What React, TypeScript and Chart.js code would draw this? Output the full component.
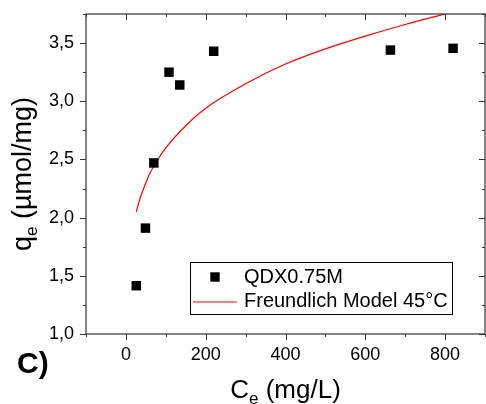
import React, { useEffect, useRef } from "react";
import { Chart, registerables } from "chart.js";

Chart.register(...registerables);

// Experimental points (Ce in mg/L, qe in µmol/mg)
const ceValues = [26, 49, 70, 108, 135, 220, 663, 820];
const qeValues = [1.415, 1.91, 2.47, 3.25, 3.14, 3.43, 3.44, 3.455];

// Freundlich model curve
const fitCe = [26, 35, 40, 50, 60, 80, 100, 150, 200, 300, 400, 500, 600, 700, 800];
const fitQe = [2.05, 2.16, 2.21, 2.3, 2.38, 2.5, 2.6, 2.79, 2.94, 3.15, 3.32, 3.45, 3.56, 3.66, 3.75];

// Axis ticks
const xMajorTicks = [0, 200, 400, 600, 800];
const xMinorTicks = [-100, 100, 300, 500, 700, 900];
const yMajorTicks = [1.0, 1.5, 2.0, 2.5, 3.0, 3.5];
const yMinorTicks = [1.25, 1.75, 2.25, 2.75, 3.25, 3.75];

const seriesLabel = "QDX0.75M";
const modelLabel = "Freundlich Model 45°C";
const panelLabel = "C)";

const FONT = "'Liberation Sans', Arial, Helvetica, sans-serif";

const decorPlugin = {
  id: "decor",
  afterDraw(chart: any) {
    const ctx = chart.ctx as CanvasRenderingContext2D;
    const { left, right, top, bottom } = chart.chartArea;
    const xs = chart.scales.x;
    const ys = chart.scales.y;
    ctx.save();
    // frame
    ctx.strokeStyle = "#333";
    ctx.lineWidth = 1.2;
    ctx.strokeRect(left, top, right - left, bottom - top);
    ctx.lineWidth = 1;
    ctx.beginPath();
    const major = 6;
    const minor = 3;
    xMajorTicks.forEach((v) => {
      const px = Math.round(xs.getPixelForValue(v)) + 0.5;
      ctx.moveTo(px, bottom); ctx.lineTo(px, bottom + major);
      ctx.moveTo(px, top); ctx.lineTo(px, top + major);
    });
    xMinorTicks.forEach((v) => {
      const px = Math.round(xs.getPixelForValue(v)) + 0.5;
      ctx.moveTo(px, bottom); ctx.lineTo(px, bottom + minor);
      ctx.moveTo(px, top); ctx.lineTo(px, top + minor);
    });
    yMajorTicks.forEach((v) => {
      const py = Math.round(ys.getPixelForValue(v)) + 0.5;
      ctx.moveTo(left, py); ctx.lineTo(left - major, py);
      ctx.moveTo(right, py); ctx.lineTo(right - major, py);
    });
    yMinorTicks.forEach((v) => {
      const py = Math.round(ys.getPixelForValue(v)) + 0.5;
      ctx.moveTo(left, py); ctx.lineTo(left - minor, py);
      ctx.moveTo(right, py); ctx.lineTo(right - minor, py);
    });
    ctx.stroke();

    // legend
    ctx.fillStyle = "#fff";
    ctx.fillRect(190, 262, 262, 52);
    ctx.strokeStyle = "#000";
    ctx.lineWidth = 1;
    ctx.strokeRect(190.5, 262.5, 262, 52);
    ctx.fillStyle = "#000";
    ctx.fillRect(215 - 4.7, 277 - 4.7, 9.4, 9.4);
    ctx.strokeStyle = "#ff0000";
    ctx.lineWidth = 1.2;
    ctx.beginPath();
    ctx.moveTo(193, 302);
    ctx.lineTo(237, 302);
    ctx.stroke();
    ctx.fillStyle = "#000";
    ctx.font = `20px ${FONT}`;
    ctx.textAlign = "left";
    ctx.textBaseline = "alphabetic";
    ctx.fillText(seriesLabel, 244, 283);
    ctx.fillText(modelLabel, 244, 307);

    // x title with subscript
    const big = `26px ${FONT}`;
    const small = `17px ${FONT}`;
    ctx.font = big;
    const wC = ctx.measureText("C").width;
    const wRest = ctx.measureText(" (mg/L)").width;
    ctx.font = small;
    const wE = ctx.measureText("e").width;
    const totalX = wC + wE + wRest;
    const x0 = (left + right) / 2 - totalX / 2;
    const xb = 398;
    ctx.font = big;
    ctx.fillText("C", x0, xb);
    ctx.font = small;
    ctx.fillText("e", x0 + wC, xb + 6);
    ctx.font = big;
    ctx.fillText(" (mg/L)", x0 + wC + wE, xb);

    // y title with subscript (rotated)
    ctx.save();
    const yb = 31;
    ctx.translate(yb, (top + bottom) / 2);
    ctx.rotate(-Math.PI / 2);
    const bigY = `27px ${FONT}`;
    const smallY = `17px ${FONT}`;
    ctx.font = bigY;
    const wq = ctx.measureText("q").width;
    const wR = ctx.measureText(" (\u00b5mol/mg)").width;
    ctx.font = smallY;
    const we = ctx.measureText("e").width;
    const totalY = wq + we + wR;
    const s0 = -totalY / 2;
    ctx.font = bigY;
    ctx.fillText("q", s0, 0);
    ctx.font = smallY;
    ctx.fillText("e", s0 + wq, 6);
    ctx.font = bigY;
    ctx.fillText(" (\u00b5mol/mg)", s0 + wq + we, 0);
    ctx.restore();

    // panel label
    ctx.font = `bold 30px ${FONT}`;
    ctx.fillText(panelLabel, 17, 373);
    ctx.restore();
  },
};

export default function App() {
  const canvasRef = useRef<HTMLCanvasElement | null>(null);

  useEffect(() => {
    document.body.style.margin = "0";
    const canvas = canvasRef.current;
    if (!canvas) return;
    const chart = new Chart(canvas, {
      type: "scatter",
      data: {
        datasets: [
          {
            label: modelLabel,
            data: fitCe.map((c, i) => ({ x: c, y: fitQe[i] })),
            showLine: true,
            borderColor: "#ff0000",
            borderWidth: 1.2,
            pointRadius: 0,
            cubicInterpolationMode: "monotone",
            order: 2,
          } as any,
          {
            label: seriesLabel,
            data: ceValues.map((c, i) => ({ x: c, y: qeValues[i] })),
            pointStyle: "rect",
            pointRadius: 6.7,
            backgroundColor: "#000",
            borderWidth: 0,
            order: 1,
          } as any,
        ],
      },
      options: {
        animation: false,
        responsive: false,
        devicePixelRatio: 1,
        layout: { autoPadding: false, padding: { top: 14, right: 1, left: 0, bottom: 0 } },
        plugins: { legend: { display: false }, tooltip: { enabled: false } },
        scales: {
          x: {
            type: "linear",
            min: -100,
            max: 900,
            afterBuildTicks: (s: any) => {
              s.ticks = xMajorTicks.map((v) => ({ value: v }));
            },
            afterFit: (s: any) => {
              s.height = 70;
              s.paddingLeft = 0;
              s.paddingRight = 0;
            },
            grid: { display: false, drawTicks: false },
            border: { display: false },
            ticks: {
              color: "#000",
              font: { size: 18, family: FONT },
              padding: 10,
              maxRotation: 0,
              callback: (v: any) => String(v),
            },
          },
          y: {
            type: "linear",
            min: 1.0,
            max: 3.75,
            afterBuildTicks: (s: any) => {
              s.ticks = yMajorTicks.map((v) => ({ value: v }));
            },
            afterFit: (s: any) => {
              s.width = 86;
              s.paddingTop = 0;
              s.paddingBottom = 0;
            },
            grid: { display: false, drawTicks: false },
            border: { display: false },
            ticks: {
              color: "#000",
              font: { size: 18, family: FONT },
              padding: 12,
              callback: (v: any) => Number(v).toFixed(1).replace(".", ","),
            },
          },
        },
      },
      plugins: [decorPlugin],
    });
    return () => chart.destroy();
  }, []);

  return (
    <div style={{ width: 486, height: 404 }}>
      <canvas ref={canvasRef} width={486} height={404} style={{ display: "block" }} />
    </div>
  );
}
